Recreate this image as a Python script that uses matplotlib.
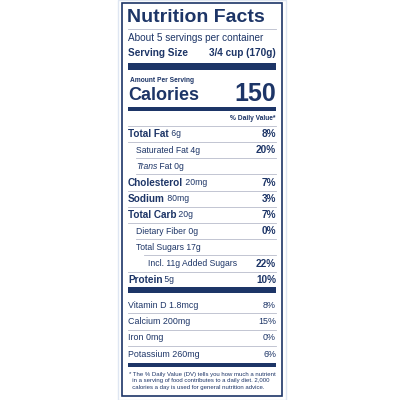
import matplotlib.pyplot as plt

NAVY = '#1d3567'
FONT = ['Liberation Sans', 'DejaVu Sans']

names = ['Total Fat', 'Saturated Fat', 'Trans', 'Cholesterol', 'Sodium',
         'Total Carb', 'Dietary Fiber', 'Total Sugars', 'Incl. 11g Added Sugars', 'Protein']
amounts = ['6g', '4g', 'Fat 0g', '20mg', '80mg', '20g', '0g', '17g', '', '5g']
dvs = ['8%', '20%', '', '7%', '3%', '7%', '0%', '', '22%', '10%']
bold = [True, False, False, True, True, True, False, False, False, True]
indent = [0, 1, 1, 0, 0, 0, 1, 1, 2, 0]

vitamins = ['Vitamin D 1.8mcg', 'Calcium 200mg', 'Iron 0mg', 'Potassium 260mg']
vit_dvs = ['8%', '15%', '0%', '6%']

fig = plt.figure(figsize=(4, 4), dpi=100)
ax = fig.add_axes([0, 0, 1, 1])
ax.set_xlim(0, 400)
ax.set_ylim(400, 0)
ax.axis('off')

L, R = 128, 276
ax.add_patch(plt.Rectangle((122, 3), 160, 393, fill=False, ec=NAVY, lw=1.2))
ax.add_patch(plt.Rectangle((118, 0), 168, 400, fill=False, ec='#dfe6f2', lw=1))


def bar(y, h):
    ax.add_patch(plt.Rectangle((L, y), R - L, h, color=NAVY, lw=0))


def line(y, x0=L):
    ax.plot([x0, R], [y, y], color='#b8bccb', lw=0.6)


def txt(x, y, s, size=6.5, weight='normal', ha='left', style='normal'):
    return ax.text(x, y, s, fontsize=size, fontweight=weight, ha=ha, va='center',
                   color=NAVY, family=FONT, style=style)


def after(t, s, size=6.2):
    return ax.annotate(' ' + s, xycoords=t, xy=(1, 0.5), va='center',
                       fontsize=size, color=NAVY, family=FONT)


txt(L - 1, 17, 'Nutrition Facts', size=14, weight='bold')
line(29)
txt(L, 38, 'About 5 servings per container', size=7.2)
txt(L, 53, 'Serving Size', size=7.2, weight='bold')
txt(R, 53, '3/4 cup (170g)', size=7.2, weight='bold', ha='right')
bar(63, 7)
txt(L + 2, 80, 'Amount Per Serving', size=4.8, weight='bold')
txt(L, 96, 'Calories', size=13, weight='bold')
txt(R, 94, '150', size=18, weight='bold', ha='right')
bar(107, 4)
txt(R, 118, '% Daily Value*', size=4.8, weight='bold', ha='right')

y = 134
line(126)
for n, a, d, b, ind in zip(names, amounts, dvs, bold, indent):
    x = L + [0, 8, 20][ind]
    t = txt(x, y, n, size=7.2 if b else 6.2, weight='bold' if b else 'normal',
            style='italic' if n == 'Trans' else 'normal')
    if a:
        after(t, a)
    if d:
        txt(R, y, d, size=7.2, weight='bold', ha='right')
    if n != 'Protein':
        x0 = L + 8 if n in ('Saturated Fat', 'Trans', 'Dietary Fiber') else L
        if n == 'Total Sugars':
            x0 = L + 16
        line(y + 8, x0=x0)
    y += 16.2
bar(287, 6)

y = 305
for i, (v, d) in enumerate(zip(vitamins, vit_dvs)):
    txt(L, y, v, size=6.4)
    txt(R, y, d, size=6.4, ha='right')
    if i < 3:
        line(y + 8)
    y += 16.5
bar(363, 4)
ax.text(L + 1, 372, '* The % Daily Value (DV) tells you how much a nutrient\n'
        '  in a serving of food contributes to a daily diet. 2,000\n'
        '  calories a day is used for general nutrition advice.',
        fontsize=4.3, color=NAVY, family=FONT, va='top', linespacing=1.35)

fig.savefig('out.png', dpi=100)
